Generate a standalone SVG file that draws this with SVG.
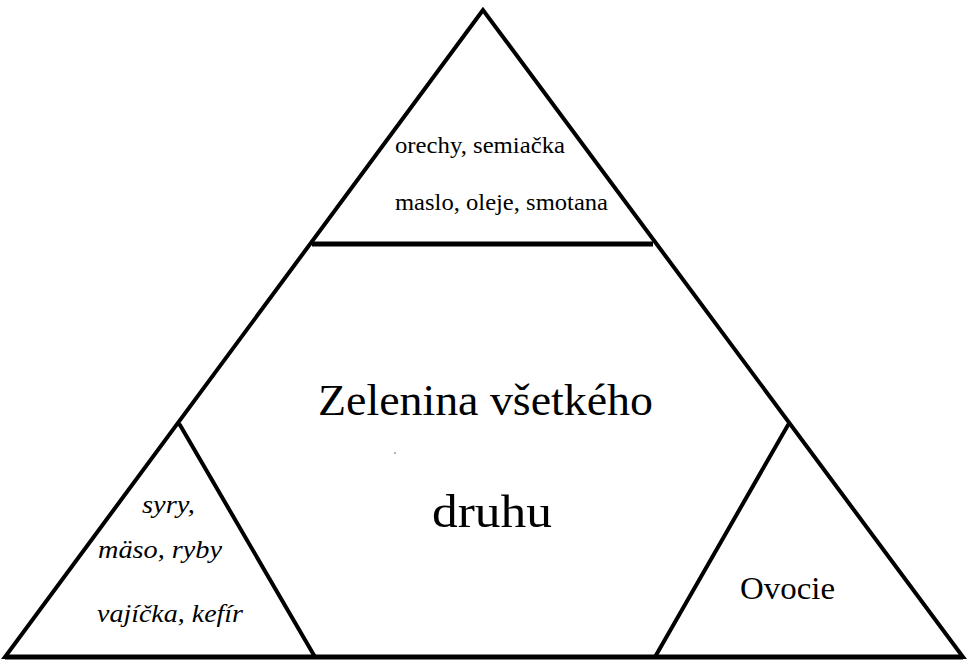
<svg xmlns="http://www.w3.org/2000/svg" width="970" height="665" viewBox="0 0 970 665">
<style>
.ln{stroke:#000;stroke-width:4;fill:none;stroke-linejoin:miter;stroke-linecap:butt}
.t{font-family:"Liberation Serif","DejaVu Serif",serif;fill:#000}
.it{font-style:italic}
</style>
<rect width="970" height="665" fill="#fff"/>
<g id="pyramid">
<polygon class="ln" points="483,10 5,657 963,657"/>
<line class="ln" x1="5" y1="657" x2="963" y2="657" style="stroke-width:5"/>
</g>
<g id="connectors">
<line class="ln" x1="312" y1="244" x2="653" y2="244" style="stroke-width:5"/>
<polyline class="ln" points="178,424 180,425 315,657"/>
<polyline class="ln" points="790,424 788,425 655,657"/>
</g>
<g id="top">
<text class="t" x="395" y="153" font-size="24" textLength="170" lengthAdjust="spacingAndGlyphs">orechy, semiačka</text>
<text class="t" x="395" y="210" font-size="24" textLength="213" lengthAdjust="spacingAndGlyphs">maslo, oleje, smotana</text>
</g>
<g id="center">
<text class="t" x="318" y="415" font-size="44" textLength="335" lengthAdjust="spacingAndGlyphs">Zelenina všetkého</text>
<text class="t" x="432" y="527" font-size="46" textLength="120" lengthAdjust="spacingAndGlyphs">druhu</text>
<circle cx="395" cy="453" r="0.8" fill="#555"/>
</g>
<g id="left">
<text class="t it" x="142" y="513" font-size="26" textLength="53" lengthAdjust="spacingAndGlyphs">syry,</text>
<text class="t it" x="98" y="558" font-size="26" textLength="124" lengthAdjust="spacingAndGlyphs">mäso, ryby</text>
<text class="t it" x="97" y="622" font-size="26" textLength="146" lengthAdjust="spacingAndGlyphs">vajíčka, kefír</text>
</g>
<g id="right">
<text class="t" x="740" y="599" font-size="32" textLength="95" lengthAdjust="spacingAndGlyphs">Ovocie</text>
</g>
</svg>
